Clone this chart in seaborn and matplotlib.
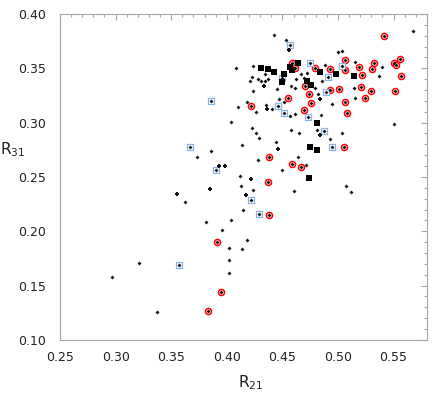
import numpy as np
import matplotlib
matplotlib.use("Agg")
import matplotlib.pyplot as plt
from matplotlib.ticker import MultipleLocator
import seaborn as sns

# small black diamonds
dot_x = [0.442, 0.453, 0.500, 0.504, 0.567, 0.408, 0.424, 0.423, 0.421, 0.428,
         0.431, 0.434, 0.437, 0.434, 0.462, 0.467, 0.472, 0.469, 0.488, 0.486,
         0.515, 0.537, 0.540, 0.424, 0.445, 0.458, 0.461, 0.447, 0.451, 0.479,
         0.482, 0.514, 0.515, 0.410, 0.418, 0.426, 0.435, 0.441, 0.457, 0.461,
         0.485, 0.495, 0.404, 0.423, 0.426, 0.429, 0.414, 0.386, 0.373, 0.428,
         0.444, 0.458, 0.465, 0.464, 0.481, 0.493, 0.504, 0.550, 0.471, 0.450,
         0.412, 0.413, 0.424, 0.362, 0.460, 0.507, 0.512, 0.415, 0.381, 0.404,
         0.396, 0.402, 0.418, 0.414, 0.402, 0.402, 0.321, 0.297, 0.337]
dot_y = [0.381, 0.376, 0.365, 0.366, 0.384, 0.350, 0.352, 0.342, 0.338, 0.340,
         0.338, 0.338, 0.340, 0.345, 0.340, 0.345, 0.346, 0.341, 0.353, 0.338,
         0.356, 0.343, 0.351, 0.329, 0.331, 0.334, 0.332, 0.322, 0.319, 0.332,
         0.326, 0.332, 0.323, 0.314, 0.319, 0.310, 0.316, 0.313, 0.306, 0.308,
         0.307, 0.317, 0.301, 0.295, 0.290, 0.286, 0.279, 0.274, 0.268, 0.266,
         0.282, 0.293, 0.290, 0.268, 0.293, 0.285, 0.290, 0.299, 0.261, 0.256,
         0.251, 0.242, 0.238, 0.227, 0.237, 0.242, 0.236, 0.220, 0.209, 0.210,
         0.201, 0.185, 0.192, 0.184, 0.174, 0.162, 0.171, 0.158, 0.126]

# small black crosses
plus_x = [0.456, 0.433, 0.436, 0.484, 0.446, 0.484, 0.393, 0.398, 0.422, 0.385,
          0.417, 0.355]
plus_y = [0.367, 0.334, 0.313, 0.322, 0.276, 0.289, 0.260, 0.260, 0.248, 0.239,
          0.233, 0.234]

# large black squares
sq_x = [0.431, 0.437, 0.442, 0.451, 0.450, 0.457, 0.459, 0.464, 0.472, 0.476,
        0.484, 0.498, 0.514, 0.481, 0.475, 0.481, 0.474]
sq_y = [0.350, 0.349, 0.347, 0.345, 0.337, 0.351, 0.348, 0.355, 0.338, 0.335,
        0.347, 0.345, 0.343, 0.300, 0.278, 0.275, 0.249]

# red circled points
red_x = [0.459, 0.461, 0.479, 0.493, 0.506, 0.506, 0.519, 0.522, 0.532, 0.531,
         0.541, 0.550, 0.552, 0.556, 0.557, 0.470, 0.474, 0.476, 0.469, 0.455,
         0.493, 0.501, 0.506, 0.508, 0.521, 0.524, 0.530, 0.551, 0.422, 0.505,
         0.438, 0.459, 0.467, 0.437, 0.438, 0.391, 0.395, 0.383]
red_y = [0.355, 0.350, 0.350, 0.349, 0.358, 0.348, 0.351, 0.344, 0.355, 0.349,
         0.380, 0.355, 0.353, 0.359, 0.343, 0.334, 0.326, 0.318, 0.312, 0.323,
         0.330, 0.331, 0.319, 0.309, 0.333, 0.323, 0.329, 0.329, 0.315, 0.278,
         0.268, 0.262, 0.259, 0.245, 0.215, 0.190, 0.144, 0.127]

# blue boxed points
blue_x = [0.457, 0.475, 0.504, 0.491, 0.450, 0.489, 0.446, 0.451, 0.473, 0.487,
          0.495, 0.386, 0.367, 0.390, 0.422, 0.429, 0.357]
blue_y = [0.371, 0.355, 0.352, 0.342, 0.341, 0.328, 0.315, 0.309, 0.305, 0.292,
          0.278, 0.320, 0.278, 0.256, 0.229, 0.216, 0.169]

sns.set_style("white")
plt.rcParams['font.family'] = ['DejaVu Sans']
plt.rcParams['mathtext.default'] = 'regular'

fig = plt.figure(figsize=(4.36, 3.99), dpi=100)
ax = fig.add_axes([0.1376, 0.148, 0.8417, 0.817])

sns.scatterplot(x=red_x, y=red_y, marker='o', s=19, facecolor='white',
                edgecolor='#FF0000', linewidth=1.1, ax=ax, zorder=2)
sns.scatterplot(x=blue_x, y=blue_y, marker='s', s=22, facecolor='white',
                edgecolor='#8DB3E2', linewidth=0.9, ax=ax, zorder=2)
sns.scatterplot(x=sq_x, y=sq_y, marker='s', s=22, color='black',
                linewidth=0, ax=ax, zorder=3)
sns.scatterplot(x=dot_x + red_x + blue_x, y=dot_y + red_y + blue_y, marker='D',
                s=4, color='#111111', linewidth=0, ax=ax, zorder=4)
sns.scatterplot(x=plus_x, y=plus_y, marker='P', s=8, color='#111111',
                linewidth=0, ax=ax, zorder=4)

ax.set_xlim(0.25, 0.58)
ax.set_ylim(0.10, 0.40)
ax.xaxis.set_major_locator(MultipleLocator(0.05))
ax.xaxis.set_minor_locator(MultipleLocator(0.01))
ax.yaxis.set_major_locator(MultipleLocator(0.05))
ax.yaxis.set_minor_locator(MultipleLocator(0.01))
ax.xaxis.set_major_formatter(matplotlib.ticker.FormatStrFormatter('%.2f'))
ax.yaxis.set_major_formatter(matplotlib.ticker.FormatStrFormatter('%.2f'))

ax.tick_params(which='both', direction='in', top=True, right=True,
               color='#A6A6A6', width=0.8)
ax.tick_params(which='major', length=4, labelsize=9, labelcolor='#222222')
ax.tick_params(which='minor', length=2.5)
ax.tick_params(axis='x', which='major', pad=8)
ax.tick_params(axis='y', which='major', pad=10)
for sp in ax.spines.values():
    sp.set_color('#A6A6A6')
    sp.set_linewidth(0.8)

ax.set_xlabel('R$_{21}$', fontsize=11, color='#222222', va='center')
ax.set_ylabel('R$_{31}$', fontsize=11, color='#222222', rotation=0,
              va='center', ha='center')
ax.xaxis.set_label_coords(0.52, -0.13, transform=ax.transAxes)
ax.yaxis.set_label_coords(-0.13, 0.585, transform=ax.transAxes)

fig.savefig('out.png', dpi=100)
